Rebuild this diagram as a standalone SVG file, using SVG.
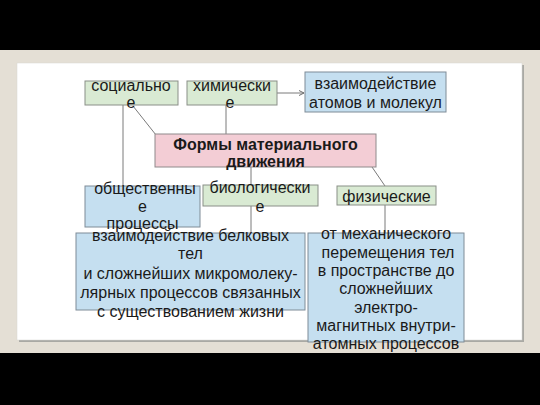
<svg xmlns="http://www.w3.org/2000/svg" width="540" height="405" viewBox="0 0 540 405">
<defs>
<marker id="arr" markerWidth="6" markerHeight="6" refX="5" refY="3" orient="auto" markerUnits="userSpaceOnUse">
<path d="M0,0.5 L5,3 L0,5.5" fill="none" stroke="#6e6e6e" stroke-width="1"/>
</marker>
</defs>
<style>
.g{fill:#d9ead3;stroke:#8a8f88;stroke-width:1}
.b{fill:#c5dff0;stroke:#7f8c97;stroke-width:1}
.p{fill:#f3cdd5;stroke:#8f8a8b;stroke-width:1}
.t{font-family:"Liberation Sans",Arial,sans-serif;font-size:16px;fill:#1a1a1a;text-anchor:middle}
.bt{font-weight:bold}
.c{stroke:#7a7a7a;stroke-width:1;fill:none}
</style>
<rect x="0" y="0" width="540" height="405" fill="#e4dfd5"/>
<rect x="0" y="0" width="540" height="50" fill="#000"/>
<rect x="0" y="353" width="540" height="52" fill="#000"/>
<rect x="19" y="65" width="505" height="277" fill="#a9a9a4"/>
<rect x="17" y="63" width="505" height="277" fill="#ffffff" stroke="#d6d6d2" stroke-width="0.5"/>
<g id="connectors">
<line class="c" x1="123" y1="105" x2="123" y2="186"/>
<line class="c" x1="133" y1="106" x2="156" y2="135"/>
<line class="c" x1="226" y1="105" x2="226" y2="134"/>
<line class="c" x1="277" y1="93" x2="304" y2="93" marker-end="url(#arr)"/>
<line class="c" x1="251" y1="167" x2="251" y2="233"/>
<line class="c" x1="372" y1="167" x2="385" y2="186"/>
<line class="c" x1="385" y1="205" x2="385" y2="233"/>
</g>
<g id="n-social">
<rect class="g" x="85" y="81" width="93" height="24"/>
<text class="t" x="131" y="91">социально</text>
<text class="t" x="131" y="108">е</text>
</g>
<g id="n-chem">
<rect class="g" x="187" y="81" width="90" height="24"/>
<text class="t" x="232" y="91">химически</text>
<text class="t" x="230" y="108">е</text>
</g>
<g id="n-atoms">
<rect class="b" x="305" y="72" width="141" height="40"/>
<text class="t" x="375.5" y="89">взаимодействие</text>
<text class="t" x="375.5" y="108">атомов и молекул</text>
</g>
<g id="n-forms">
<rect class="p" x="155" y="134" width="221" height="33"/>
<text class="t bt" x="265.5" y="150">Формы материального</text>
<text class="t bt" x="265.5" y="167">движения</text>
</g>
<g id="n-public">
<rect class="b" x="85" y="186" width="115" height="41"/>
<text class="t" x="145" y="194">общественны</text>
<text class="t" x="142.5" y="212">е</text>
<text class="t" x="142.5" y="229">процессы</text>
</g>
<g id="n-bio">
<rect class="g" x="203" y="185" width="115" height="21"/>
<text class="t" x="260" y="193">биологически</text>
<text class="t" x="260" y="212">е</text>
</g>
<g id="n-phys">
<rect class="g" x="337" y="186" width="99" height="19"/>
<text class="t" x="386.5" y="202">физические</text>
</g>
<g id="n-life">
<rect class="b" x="76" y="233" width="229" height="77"/>
<text class="t" x="190.5" y="241">взаимодействие белковых</text>
<text class="t" x="190.5" y="259">тел</text>
<text class="t" x="190.5" y="279">и сложнейших микромолеку-</text>
<text class="t" x="190.5" y="298">лярных процессов связанных</text>
<text class="t" x="190.5" y="317">с существованием жизни</text>
</g>
<g id="n-mech">
<rect class="b" x="308" y="233" width="156" height="109"/>
<text class="t" x="386" y="239">от механического</text>
<text class="t" x="388" y="258">перемещения тел</text>
<text class="t" x="386" y="276">в пространстве до</text>
<text class="t" x="386" y="294">сложнейших</text>
<text class="t" x="386" y="313">электро-</text>
<text class="t" x="386" y="331">магнитных внутри-</text>
<text class="t" x="386" y="349">атомных процессов</text>
</g>
</svg>
